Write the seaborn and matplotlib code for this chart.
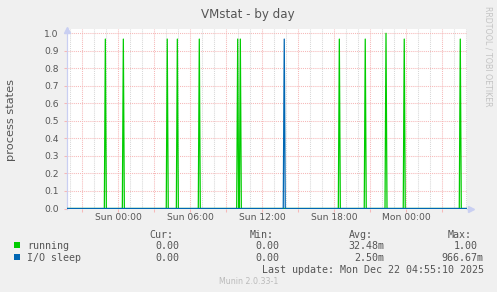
import numpy as np
import pandas as pd
import matplotlib
matplotlib.use("Agg")
import matplotlib.pyplot as plt
import seaborn as sns
from matplotlib.patches import Rectangle
from matplotlib.ticker import FixedLocator

# ---------------- data (hours relative to Sun 00:00) ----------------
running_hours = [-1.08, 0.42, 4.08, 4.92, 6.75, 9.95, 10.17, 18.42, 20.58, 22.31, 23.83, 28.50]
running_values = [0.967, 0.967, 0.967, 0.967, 0.967, 0.967, 0.967, 0.967, 0.967, 1.000, 0.967, 0.967]
io_hours = [13.83]
io_values = [0.967]

series_names = ["running", "I/O sleep"]
series_colors = ["#00CC00", "#0066B3"]

xtick_hours = [-3, 0, 3, 6, 9, 12, 15, 18, 21, 24, 27]
xtick_labels = ["", "Sun 00:00", "", "Sun 06:00", "", "Sun 12:00", "", "Sun 18:00", "", "Mon 00:00", ""]
xminor_hours = [-4, -2, -1, 1, 2, 4, 5, 7, 8, 10, 11, 13, 14, 16, 17, 19, 20, 22, 23, 25, 26, 28, 29]
ytick_values = [0.0, 0.1, 0.2, 0.3, 0.4, 0.5, 0.6, 0.7, 0.8, 0.9, 1.0]
ytick_labels = ["0.0", "0.1", "0.2", "0.3", "0.4", "0.5", "0.6", "0.7", "0.8", "0.9", "1.0"]

cur_values = ["0.00", "0.00"]
min_values = ["0.00", "0.00"]
avg_values = ["32.48m", "2.50m"]
max_values = ["1.00", "966.67m"]

title = "VMstat - by day"
ylabel = "process states"
last_update = "Last update: Mon Dec 22 04:55:10 2025"
version = "Munin 2.0.33-1"
watermark = "RRDTOOL / TOBI OETIKER"

# ---------------- layout ----------------
X0, X1 = -4.275, 29.06
STEP = 5.0 / 60.0  # sample step (5 min)


def spike_frame(hours, values, name):
    xs, ys = [X0], [0.0]
    for t, v in zip(hours, values):
        xs += [t - STEP, t, t + STEP]
        ys += [0.0, v, 0.0]
    xs.append(X1)
    ys.append(0.0)
    return pd.DataFrame({"hour": xs, "value": ys, "series": name})


df = pd.concat([spike_frame(running_hours, running_values, series_names[0]),
                spike_frame(io_hours, io_values, series_names[1])], ignore_index=True)

BG = "#F0F0F0"
RED = "#F6B8B8"
GRAY = "#D8D8D8"
AXC = "#C9CFF2"
TXT = "#555555"

W, H = 497, 292
fig = plt.figure(figsize=(W / 100, H / 100), dpi=100, facecolor=BG)
ax = fig.add_axes([67 / W, (H - 208.5) / H, 400 / W, (208.5 - 29) / H])
ax.set_facecolor("white")

sns.lineplot(data=df, x="hour", y="value", hue="series", hue_order=series_names,
             palette=dict(zip(series_names, series_colors)), estimator=None, sort=False,
             linewidth=0.9, legend=False, ax=ax, zorder=5)

ax.set_xlim(X0, X1)
ax.set_ylim(0, 1.0245)
ax.set_xticks(xtick_hours)
ax.set_xticklabels(xtick_labels)
ax.xaxis.set_minor_locator(FixedLocator(xminor_hours))
ax.set_yticks(ytick_values)
ax.set_yticklabels(ytick_labels)
ax.set_xlabel("")
ax.set_ylabel("")

dot = (0, (1, 1))
ax.grid(which="minor", axis="x", color=GRAY, linestyle=dot, linewidth=0.75)
ax.grid(which="major", axis="both", color=RED, linestyle=dot, linewidth=0.75)
ax.set_axisbelow(True)

ax.tick_params(axis="both", which="major", direction="out", length=2, width=0.75,
               color=RED, labelsize=6.6, labelcolor=TXT)
ax.tick_params(axis="y", pad=4)
ax.tick_params(axis="x", pad=1.5)
ax.tick_params(axis="x", which="minor", length=0)

for s in ["top", "right", "bottom"]:
    ax.spines[s].set_visible(False)
ax.spines["left"].set_color(AXC)
ax.spines["left"].set_linewidth(0.9)

# ---------------- overlay in pixel coordinates ----------------
ov = fig.add_axes([0, 0, 1, 1])
ov.set_xlim(0, W)
ov.set_ylim(H, 0)
ov.axis("off")
ov.patch.set_alpha(0)

ov.plot([467, 470], [208.5, 208.5], color=AXC, lw=0.9)
ov.plot(66.8, 29.5, marker="^", ms=4.5, color=AXC, mec=AXC)
ov.plot(470.5, 208.5, marker=">", ms=4.5, color=AXC, mec=AXC)

ov.text(248, 18.3, title, ha="center", va="baseline", fontsize=8.6, color=TXT)
ov.text(11.5, 120, ylabel, rotation=90, ha="center", va="center", fontsize=8.2, color=TXT)
ov.text(488.3, 6, watermark, rotation=270, ha="center", va="top", fontsize=5.7, color="#C4C4C4")

mono = "DejaVu Sans Mono"
fs = 7.2
ov.text(149.3, 237.6, "Cur:", family=mono, fontsize=fs, color=TXT, va="baseline")
ov.text(250.0, 237.6, "Min:", family=mono, fontsize=fs, color=TXT, va="baseline")
ov.text(349.0, 237.6, "Avg:", family=mono, fontsize=fs, color=TXT, va="baseline")
ov.text(447.7, 237.6, "Max:", family=mono, fontsize=fs, color=TXT, va="baseline")

row_y = [248.7, 260.7]
for i in range(2):
    y = row_y[i]
    ov.add_patch(Rectangle((14, y - 6.5), 6, 6, color=series_colors[i], lw=0))
    ov.text(27.3, y, series_names[i], family=mono, fontsize=fs, color=TXT, va="baseline")
    ov.text(179.5, y, cur_values[i], family=mono, fontsize=fs, color=TXT, va="baseline", ha="right")
    ov.text(279.5, y, min_values[i], family=mono, fontsize=fs, color=TXT, va="baseline", ha="right")
    ov.text(384.5, y, avg_values[i], family=mono, fontsize=fs, color=TXT, va="baseline", ha="right")
    max_right = 483.0 if max_values[i].endswith("m") else 477.4
    ov.text(max_right, y, max_values[i], family=mono, fontsize=fs, color=TXT, va="baseline", ha="right")

ov.text(483.5, 272.8, last_update, family=mono, fontsize=fs, color=TXT, va="baseline", ha="right")
ov.text(248.5, 284, version, fontsize=5.7, color="#BBBBBB", va="baseline", ha="center")

fig.savefig("out.png", dpi=100, facecolor=BG)
